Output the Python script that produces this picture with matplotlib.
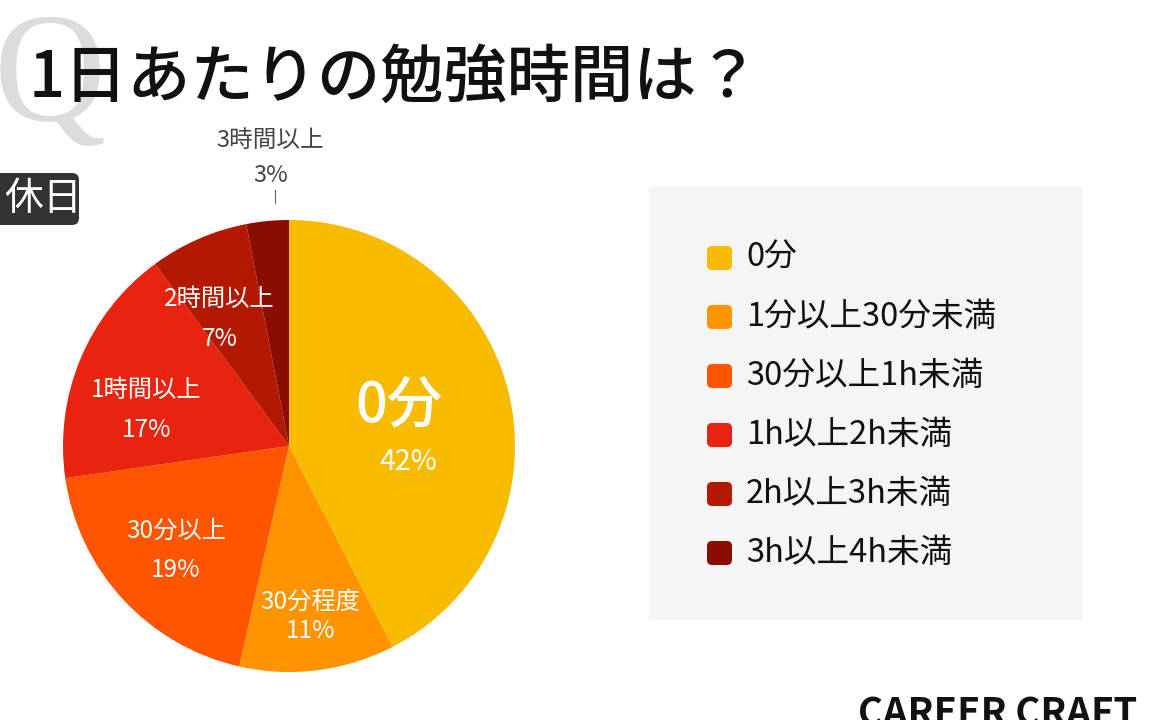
import matplotlib.pyplot as plt
import numpy as np
from matplotlib.patches import FancyBboxPatch

plt.rcParams['font.family'] = ['Noto Sans CJK JP', 'DejaVu Sans']

# data
categories = ['0分', '1分以上30分未満', '30分以上1h未満', '1h以上2h未満', '2h以上3h未満', '3h以上4h未満']
pie_labels = ['0分', '30分程度', '30分以上', '1時間以上', '2時間以上', '3時間以上']
shares = [42, 11, 19, 17, 7, 3]
colors = ['#F8BB00', '#FF9300', '#FF5500', '#E8230F', '#B21900', '#8B0D00']

W, H = 1152, 720
fig = plt.figure(figsize=(W / 100, H / 100), dpi=100)
fig.patch.set_facecolor('white')

# overlay in pixel coords for decorations
ov = fig.add_axes([0, 0, 1, 1])
ov.set_xlim(0, W)
ov.set_ylim(H, 0)
ov.axis('off')

# big pale Q behind the title
ov.text(-6, 120, 'Q', fontsize=112, color='#DCDCDC', family='Liberation Serif',
        ha='left', va='baseline')
ov.text(29, 78, '1日あたりの勉強時間は？', fontsize=45.5, fontweight='medium',
        color='#111111', ha='left', va='center')

# 休日 tag
ov.add_patch(FancyBboxPatch((-20, 173), 99, 52, boxstyle='round,pad=0,rounding_size=7',
                            fc='#333333', ec='none'))
ov.text(4, 199, '休日', fontsize=28, color='white', ha='left', va='center')

# legend panel
ov.add_patch(plt.Rectangle((649, 187), 434, 433, fc='#F5F5F5', ec='none'))
for i, (cat, c) in enumerate(zip(categories, colors)):
    yc = 258 + i * 59
    ov.add_patch(FancyBboxPatch((707, yc - 12), 25, 24, boxstyle='round,pad=0,rounding_size=5',
                                fc=c, ec='none'))
    ov.text(746, yc, cat, fontsize=23.5, color='#111111', ha='left', va='center')

# logo
ov.text(858, 695, 'CAREER CRAFT', fontsize=27.5, fontweight='bold', color='#111111',
        ha='left', va='top')

# pie
cx, cy, r = 289, 446, 226
ax = fig.add_axes([(cx - r) / W, (H - cy - r) / H, 2 * r / W, 2 * r / H])
wedges, _ = ax.pie(shares, colors=colors, startangle=90, counterclock=False,
                   radius=1, wedgeprops=dict(linewidth=0))
ax.set_xlim(-1, 1)
ax.set_ylim(-1, 1)
ax.axis('off')

# label placement: radius and angle nudge (degrees) per wedge
label_r = [0.50, 0.76, 0.68, 0.65, 0.64, 1.20]
label_nudge = [0, 0, 0, 8.6, 5, -1.5]
for i, (w, name, v) in enumerate(zip(wedges, pie_labels, shares)):
    ang = np.deg2rad((w.theta1 + w.theta2) / 2 + label_nudge[i])
    x, y = label_r[i] * np.cos(ang), label_r[i] * np.sin(ang)
    if i == 0:
        ax.text(x, y + 0.06, name, fontsize=40, fontweight='medium', color='white',
                ha='center', va='center')
        ax.text(x + 0.04, y - 0.19, f'{v}%', fontsize=20.5, color='white',
                ha='center', va='center')
    elif i == len(shares) - 1:
        ax.text(x, y + 0.155, name, fontsize=17, color='#444444', ha='center', va='center')
        ax.text(x, y, f'{v}%', fontsize=17, color='#444444', ha='center', va='center')
        ax.plot([x + 0.022] * 2, [1.075, 1.133], color='#666666', lw=0.8, clip_on=False)
    else:
        gap = 0.125 if i == 1 else 0.175
        ax.text(x, y + gap / 2, name, fontsize=17.5, color='white', ha='center', va='center')
        ax.text(x, y - gap / 2, f'{v}%', fontsize=17.5, color='white', ha='center', va='center')

fig.savefig('out.png', dpi=100, facecolor='white')
